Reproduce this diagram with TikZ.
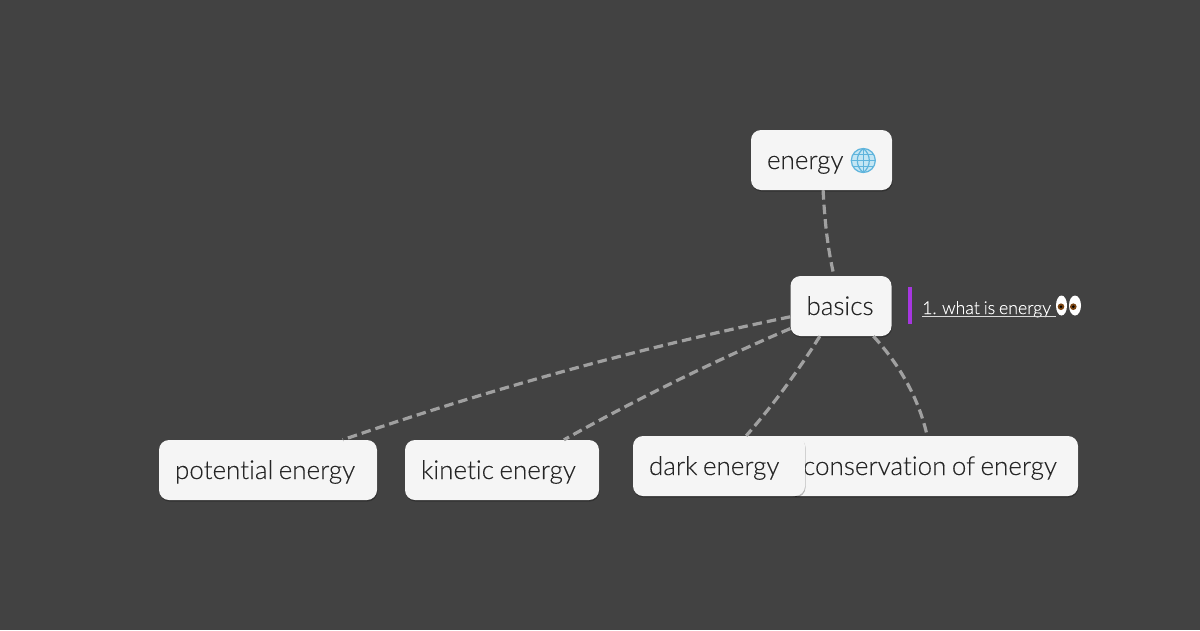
\documentclass[tikz,border=0pt]{standalone}
\usepackage{fontspec}
\newfontfamily\thinface{Lato}[UprightFont={* Light},WordSpace=0.8,Ligatures=NoCommon,FakeBold=0.12]
\usetikzlibrary{shadows,calc}
\definecolor{bg}{HTML}{424242}
\definecolor{card}{HTML}{F5F5F5}
\definecolor{ink}{HTML}{262626}
\definecolor{wire}{HTML}{A0A0A0}
\definecolor{bar}{HTML}{A636E0}
\definecolor{globeline}{HTML}{5FB4DC}
\definecolor{globefill}{HTML}{C4E6F4}
\definecolor{iris}{HTML}{7A4310}
\tikzset{
 x=1pt,y=-1pt,
 card/.style={draw=none,fill=card,rounded corners=10pt,minimum height=60pt,inner xsep=16pt,inner ysep=0pt,
   text width=#1,align=left,text=ink,text height=18pt,text depth=0pt,font=\thinface\fontsize{26}{28}\selectfont,
   drop shadow={shadow xshift=0.5pt,shadow yshift=-1.5pt,fill=black,opacity=.25}},
 wirex/.style={draw=wire,line width=3.2pt,dash pattern=on 9.5pt off 5pt},
 tag/.style={text=white,font=\thinface\fontsize{17.7}{20}\selectfont,inner sep=0pt,anchor=base west}
}
\newcommand{\cardtext}[1]{\mbox{\spaceskip=.21em\relax #1}}
\begin{document}
\begin{tikzpicture}
\useasboundingbox (0,0) rectangle (1200,630);
\fill[bg] (0,0) rectangle (1200,630);
\node[card=109pt] (energy) at (821.5,160) {\cardtext{energy}};
\node[card=69pt] (basics) at (841,306) {\cardtext{basics}};
\node[card=186pt] (potential) at (268,470) {\cardtext{potential energy}};
\node[card=162pt] (kinetic) at (502,470) {\cardtext{kinetic energy}};
\node[card=259pt] (conservation) at (932.5,466) {\cardtext{conservation of energy}};
\node[card=140pt] (dark) at (719,466) {\cardtext{dark energy}};
% connectors
\draw[wirex] (energy.-87) .. controls (825,225) and (828,250) .. (basics.103);
\draw[wirex] (basics.192) .. controls (639,348) and (490,389) .. (potential.22);
\draw[wirex] (basics.204) .. controls (711,362.5) and (636,399.5) .. (kinetic.26.6);
\draw[wirex] (basics.235) .. controls (798,371) and (774,404) .. (dark.48);
\draw[wirex] (basics.-43) .. controls (897,362) and (918,395) .. (conservation.100);
% globe
\begin{scope}[shift={(863.3,160.5)}]
 \fill[globefill] (0,0) circle (12.5);
 \begin{scope}[draw=globeline,line width=1.2pt]
  \draw (0,0) circle (12);
  \draw (0,-12) -- (0,12);
  \draw (-12,0) -- (12,0);
  \draw (-10.5,-6) -- (10.5,-6);
  \draw (-10.5,6) -- (10.5,6);
  \draw (0,-12) .. controls (-8,-6) and (-8,6) .. (0,12);
  \draw (0,-12) .. controls (8,-6) and (8,6) .. (0,12);
 \end{scope}
\end{scope}
% note
\fill[bar] (908,287) rectangle (911.5,324);
\node[tag] (note) at (922,314) {1. what is energy};
\draw[white!85!black,line width=1pt] (note.base west) ++(0,2.2) -- ++(134,0);
% eyes
\fill[white] (1061.5,305.5) ellipse (5.5 and 10);
\fill[white] (1075,305.5) ellipse (6 and 10);
\fill[iris] (1061,306.7) circle (3.3);
\fill[iris] (1073.3,306.7) circle (3.3);
\fill[black] (1061,306.7) circle (1.4);
\fill[black] (1073.3,306.7) circle (1.4);
\end{tikzpicture}
\end{document}
